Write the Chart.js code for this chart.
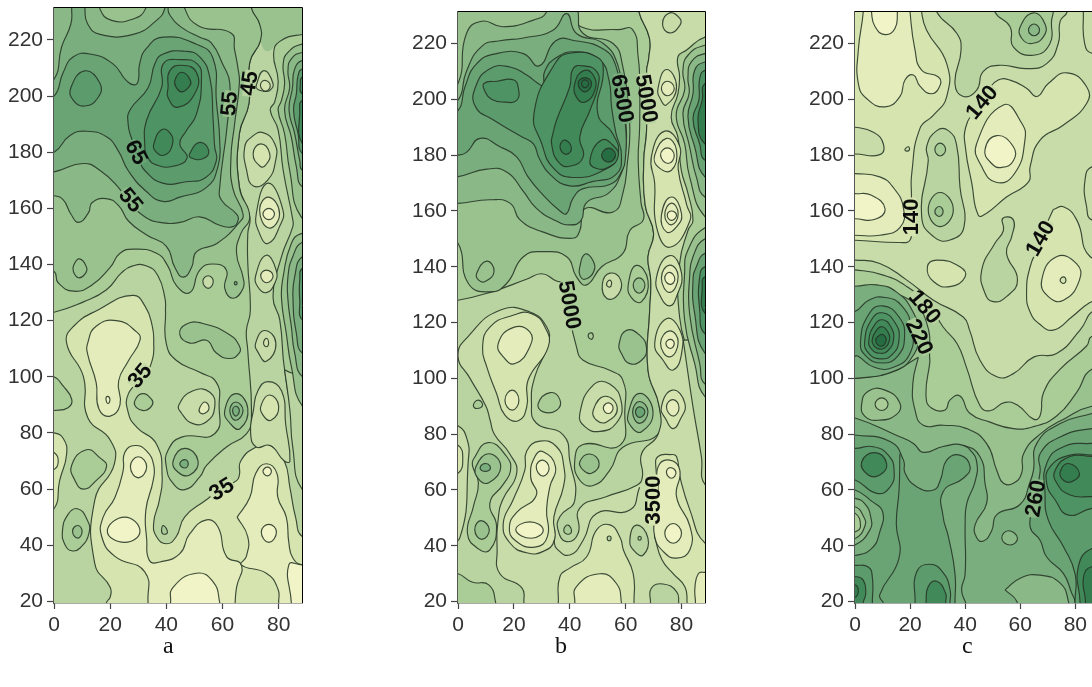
<!DOCTYPE html>
<html><head><meta charset="utf-8">
<style>
html,body{margin:0;padding:0;background:#fff;width:1092px;height:687px;overflow:hidden}
canvas{position:absolute}
.cap{position:absolute;font:24px "Liberation Serif",serif;color:#111;top:632px}
</style>
<script src="https://cdn.jsdelivr.net/npm/chart.js@4/dist/chart.umd.js"></script>
</head><body>
<canvas id="ca"></canvas><canvas id="cb"></canvas><canvas id="cc"></canvas>
<div class="cap" style="left:163px">a</div><div class="cap" style="left:555px">b</div><div class="cap" style="left:962px">c</div>
<script>
const xTicks=[0,20,40,60,80];
const yTicks=[20,40,60,80,100,120,140,160,180,200,220];
const shades=['#f1f4c6','#e3ecba','#d6e5b0','#c7dca8','#b9d4a0','#aacc97','#9ac28f','#8ab886','#7aae7e','#6aa475','#5c9b6c','#4e9363','#418959','#347d4f','#276d44'];

// contour levels of panel a: [shade band, x,y pairs, optional 0 = no outline]; null band = line only
const contoursA=[
[2,[18.7,15,18.7,19.5,20,21.5,20,25,14.5,33.5,14.5,56,21.5,69,20,77.5,12,85.5,10.5,100,4.5,112,7,118,16,124,28,129,32.5,125,35,118,35.5,112,35,106,32,100,26.5,94,26.5,87,29.5,82,36.5,76,38.5,64.5,37.5,56,35.5,48,36.5,43,40,40.5,43.5,43,46.5,50,54,56,59.5,60,65,63,66,65,66.5,70,72,75,77,75.5,82,70,84,60.5,86,50,88.5,43,95,43,95,15]],
[5,[-5,100,0,100,3,97,6.3,92,5,89,0,88,-5,88]],
[2,[-5,80,0,80,3.3,78,4.5,72.5,2,63,0,53,-5,53]],
[1,[-5,75,0,73,1.5,70,0,67,-5,67]],
[5,[6.3,68.5,11.5,74,16.5,71,18.7,68,15,63,10.5,60,7.5,63]],
[5,[3,45,5,51,8.3,53,11.6,49.5,12.5,44.5,9.3,39,6.3,38,4,40]],
[6,[6.6,45,8.4,47,10,45,8.4,42.5]],
[1,[12,112,15,118,22.3,120,29.4,116,30.6,113,26.4,105.5,23,98.5,23.5,90,20,86,16,88.5,15,98,12,108]],
[0,[19,93,19.9,92,19.3,90.5,18.5,92]],
[5,[28.8,91.5,31.5,94,34.7,92,35,90,32.4,88,29.4,89]],
[1,[33.5,15,33.5,19.5,32.3,30.5,21.7,36,17,43,17.5,50,21.7,57,24.6,66.5,25.2,73,28.8,75.5,33,73.5,35.5,68.5,35.3,63,32.7,52.5,33,42,34,34.5,37.7,34,44.8,37,48.3,44,54.3,49,58.4,46.5,61.4,36,66.7,33,65,25,64.5,19.5,64.5,15]],
[0,[41.5,15,41.5,19.5,42.4,25,50.7,30,56.6,27,59,19.5,59,15]],
[0,[19,45,25.2,50,30.6,45,25.2,41]],
[0,[27.2,68,30,71.5,33,68,30,64]],
[1,[65.2,50,69.7,57,71.8,65.5,75.6,69,79.4,65.5,79.7,57,82.7,50,83.6,41,85,35.5,88.3,33,95,33,95,15,80,15,80,19.5,79.7,24.5,75.6,30,66.7,33,68.5,36,69,43]],
[0,[84.5,15,84.5,19.5,83.6,33,88.3,33,95,33,95,15]],
[0,[73.8,44.7,76.5,47.4,79.2,44.7,76.5,41]],
[0,[74.4,66.3,76,67.8,77.4,66.3,76,64.7]],
[5,[-5,123,0,123,10.5,126.7,18.7,131,24,137,28,139.5,33,139.5,37,136,39.5,128,39.7,123.5,40,111.7,43.6,105.8,51.9,101.6,57.8,98,58.8,90.4,57.2,79.7,45.4,78.5,40.6,73.8,40,67.9,42.4,62,46.6,59.8,51.9,64.3,54.3,68.4,61.4,75,68.5,79.7,70.3,85.6,69,109.3,68.5,116.4,69.9,123.5,69,140.4,69,151,69.7,157,66,167.6,66,186.6,69.4,197.3,69.7,212,73.5,219.8,73.2,225.7,70.3,231.4,70.3,237,-5,237]],
[6,[70.3,237,70.3,231.4,73.2,225.7,73.5,219.8,76,216,80.4,219.5,88.5,222,95,222,95,237],0],
[6,[-5,137.5,0,137.5,1.5,133.5,7,130.5,13.4,132.6,20,139,23.5,144,28.2,145.5,36.5,144,40.5,139.5,43.6,132.5,48.4,130,51.9,138,56.6,140.2,61.4,138,60.8,131.5,63.7,128,67.3,131.5,67.3,135.5,65,144,66.5,151,69.7,157,66,167.6,66,186.6,69.4,197.3,69.7,212,73.5,219.8,73.2,225.7,70.3,231.4,70.3,237,-5,237]],
[7,[-5,164.5,0,164.5,3.3,163,6,158,8.7,155,12.3,158.5,13.5,162,18.5,163.5,23,161,26.5,155.5,33,150.5,40,146.5,43,139,46,135.5,49,139,50.7,144.5,58,147.5,66,155,67.3,158,63.7,167,63,178,64.3,190,66,204.5,65.5,210,64.3,216.5,63,222.5,51.5,225,46.5,231.4,46.5,237,-5,237]],
[8,[-5,173,0,173,10.4,176,16.4,173.5,22.9,167.5,27,161.7,32.3,157,37.7,155,44.8,155,51.9,157,59,154,63.7,153.5,65.6,156,65,158,59.6,163,59,167.5,61.6,189,62.6,204.5,60,211.5,56,219,51.9,221,45.4,224.5,41.2,229,40.6,231.4,40.6,237,-5,237]],
[7,[-5,206,0,206,2.7,217.5,6,225.7,6.3,231.4,6.3,237,-5,237]],
[7,[11,237,11,231.4,12,225.7,16.4,222,28.2,222,36.5,227,39.5,231.4,39.5,237]],
[6,[16.4,237,16.4,231,20.5,227,28.2,227.5,32.5,231,32.5,237]],
[9,[-5,180,0,180,5.7,186,11.6,187.5,18.7,185.5,22.9,180.5,26.4,173.5,32.9,166,38.7,162.5,44.8,164,54.3,167.5,58.4,175,59,184,57.8,198.5,56.6,213.5,50.7,218.5,38.9,221,32.9,217,30.5,211.5,30,205.5,28.8,204,25.8,205.5,21,211.5,12.8,215,6.9,214,3.3,208.5,0,200,-5,200]],
[10,[6,203,11,209,16.4,204.5,15.7,199.5,11,196.5,6.9,198.5]],
[10,[32.3,173.5,38.7,169,47,169.5,54,171,57.8,177,57.2,182,56.6,192.5,55.5,206.5,51.9,214,46.6,216,38.9,215,35.9,211.5,33.5,203,27,195,26.4,190,27.6,185,30.5,177]],
[11,[32.3,183,33,191.5,38.3,203,38.9,211.5,45,213,51,211.5,52.5,206,50.7,193.5,47,187.5,44.8,183,47.4,178,42.4,175,36.5,175.5,33.5,178]],
[12,[40.6,203,41.2,209,45.4,211,50.7,208.5,50.2,201,44,196,40.6,199.5]],
[13,[43,205.5,45.4,208.5,48.6,205.5,47.8,203,45.4,201.5,43.6,203]],
[12,[35.7,183.5,38.3,188,41.2,187,42.2,183,39.4,179,36,180.5]],
[12,[48.3,179.5,51.9,183.5,55.1,180.5,53,177.7,48.8,178]],
[6,[7,139.7,9,142,11.6,139,11,136.6,8.7,135.3,6.9,137.5]],
[3,[53,134,54.9,136,56.7,134,54.9,131.5]],
[8,[64.2,133.3,64.7,133.9,65.2,133.3,64.7,132.7]],
[6,[44.8,115,47,118.7,53,119,62.5,115,66,111,66,108.5,62.5,106.5,57.8,108.5,54.3,113,48.4,112]],
[3,[44.5,90,49.5,95,55.5,94.5,57.2,89,54.3,84,49.5,83.3,45.4,87]],
[1,[51.9,89,53.7,91,55.2,89,53.7,87,51.9,87.3]],
[6,[60.8,88,64.7,94,69,88.7,66.2,81.5,62.6,83.5]],
[7,[62.6,88,64.7,91,67.3,88,64.7,84.5]],
[8,[63.6,88,64.7,89.5,66,88,64.7,86]],
[6,[42.4,70,46.6,74.5,51.3,70,48.3,65,44.2,66]],
[8,[44.8,69,46.6,70.5,47.8,69,46.6,67.5]],
[5,[38.3,45.5,39,47,40.4,44.5,38.8,44]],
// right strip
[5,[95,222,88.5,222,80.4,219.5,78.2,215,79.8,205.5,78.6,198,77,195,79.8,188,81.6,173.6,85,156,85,153.4,81,142.8,78,128.5,80.4,120.2,82.1,102.5,85.7,84.7,88.5,80,95,80]],
[4,[82.1,102.5,84,88,85,75,88.3,60,95,60,95,95]],
[6,[95,218.6,88.5,218.6,83.3,215.6,81.6,211.5,82.1,204.4,81,198.5,79.8,195,82.1,186.6,83.9,173.6,88,157,95,157]],
[6,[95,151,88,151,84.5,147.5,81.6,135.7,81,128,82.7,115.5,84.5,103.7,88.5,89.5,95,89.5]],
[7,[95,215.6,88.5,215.6,84.5,213.3,83.3,209,83.9,203,82.1,195,84.5,185.4,86.3,174.8,88.5,167.6,95,167.6]],
[7,[95,148,88.5,148,85,142.8,83.3,135.7,83.3,127.4,84.5,117.9,85.7,108.4,88.5,100,95,100]],
[8,[95,212.7,88.5,212.7,85.7,209.7,84.9,203,83.7,194.9,85.7,186.6,87.5,177,88.5,173.6,95,173.6]],
[8,[95,142.8,88.5,142.8,85.7,135.7,85.1,127.4,86.3,115.5,88.5,108.4,95,108.4]],
[10,[95,209.7,88.5,209.7,86.9,207.3,86.3,200.8,85.3,194.9,86.9,186.6,88.5,179.5,95,179.5]],
[10,[95,138.6,88.5,138.6,87.5,134.5,87.5,127.4,88.5,120.2,95,120.2]],
[11,[95,206.8,88.5,206.8,87.7,204.4,88.5,200.8,95,200.8]],
[12,[95,198.5,88.5,198.5,87.5,194.9,88.5,183,95,183]],
// strip rings
[3,[72,203.8,74.7,209.1,78,204.4,76.8,202,74.4,201.8,72.3,202.6]],
[2,[73.5,203.8,75,205.6,77,203.8,75.3,201.8]],
[3,[67.9,181.8,70.3,185.4,74.4,187,78.6,183,78.9,177,76,170,71,168,68.5,174]],
[2,[70.9,179.5,73.6,183,76.8,179.5,75.4,175.5,73.4,175]],
[3,[72,158,76.2,169,81.5,159.5,80.3,153.5,76.2,147.5,73.2,151]],
[1,[73.2,159.5,76.5,164,80.3,158,76.5,153]],
[0,[74.4,158,76.5,160,78.5,158,76.5,156]],
[3,[71.8,136,75.6,143.3,79.1,138,78.6,133.3,75.6,130,72.6,132]],
[1,[73.6,136,75.6,138,78,136,75.8,133.5]],
[3,[71.8,112,75,116.5,79,112,75.6,105.5,72.6,108.8]],
[2,[74.6,112,75.6,113.7,76.4,112,75.6,110.7]],
[3,[72.6,95,76.2,98.3,81,95,82.5,83,84,70,82,70,77,75.5,72,75,70,80,71,88]],
[2,[73.8,90,76.8,93.5,80,89.5,77.3,84.5,74.3,86.5]]
];
const labelsA=[['45',69.4,204.6,-82,4],['55',62.3,197.3,-85,6],['65',29.4,180,62,9],['55',27.4,163,50,7],['35',30.5,100.4,-50,3],['35',59.6,60,-32,3]];

// contour levels of panel b
const contoursB=[
[5,[-5,128,0,128,12,131,24.5,135.5,30,137.5,35,135,38.5,133.5,39.5,125,42.4,111.3,44.8,106.5,54.3,102.9,59,99.3,59.7,88.6,57.9,76,44.8,76.3,41.8,70.6,43.6,63.5,48.4,61.6,54.3,67,59,75.3,71.6,80,72,90,68,103,68.6,124.4,69,135,68,143.6,70,152,67,162,66.5,178,67.5,189,67.5,210,68.3,215,68.5,222,64.8,231.3,64.8,237,-5,237]],
[5,[-5,30,0,30,5,27,11,26,13.5,19.5,13.5,15,-5,15]],
[3,[23.6,15,23.6,19.5,22.8,25,15,30,14,38.5,14.5,50.5,16,56.5,21,66,18.5,73,13,80,11.5,85,10,90,4.3,100,0,108,3.6,115,15,124.4,25.7,123.8,31.7,118.5,32.3,112.5,27.5,100.6,26.3,91,28,84,37.7,79.7,40,70.5,41.8,56.4,36.5,50.5,35.8,45.7,38.8,41.5,43,44.5,43.5,53.4,53,57.6,64,61.7,66,64.8,65.7,73,71.6,80,72,90,68,103,68.6,124.4,69,135,68,143.6,70,152,67,162,66.5,178,67.5,189,67.5,210,68.3,215,68.5,222,64.8,231.3,64.8,237,95,237,95,15]],
[6,[-5,148.4,0,148.4,3.7,134,11.4,131,17.4,134,23.4,143.6,30.5,145.4,38.9,143.6,42.4,136.4,46,133.5,51.4,140,59,144.8,61.5,153,66.3,156.8,65.5,163,64.5,178,65,190,65,207,64.5,215,62.5,225,57,225,44,226,42.5,231.3,42.5,237,-5,237]],
[7,[-5,162.7,0,162.7,11.4,164,18.6,162.8,22.2,156.8,30,152.6,41,150.2,43.6,153,45.4,160.8,55.5,159.6,59,166.3,60.7,178,61.5,187.8,61,197.4,59,211.6,55.5,220,44.8,223.6,43,231.3,43,237,-5,237]],
[6,[-5,205.7,0,205.7,3,223.5,8.5,228,16,226,27,228.4,31.7,231.3,31.7,237,-5,237]],
[8,[-5,172.3,0,172.3,10.3,175,17.4,174,23.4,167,28,161,35,156.5,40,155,44,156.5,46,163,54,166.5,58.5,173.6,59.7,179.6,60.3,188,59,200,57.3,212,52,220,42.4,223.6,38.9,230.7,34,224.8,23.4,222,15,221,8.5,219,3,210,0,199.7,-5,199.7]],
[9,[-5,180,0,180,3,181,7.9,186,15,183,21,179.4,25,172.3,30.5,165.7,36.5,160,38.8,159,41.2,164.6,44.8,168,54.3,169.5,58.5,174,60,180,60,190,58.5,200,56.5,212,52,218,42,221,35,221,29,212,23.4,216.4,13.8,216.4,6.7,212.8,2.5,204.5,0,196,-5,196]],
[10,[6.3,204.5,11.4,211,18.6,211.6,24.6,208.7,28.7,205.7,30.5,205,31,210,35.3,215,42.4,217,50.8,214,54,207,55,197,56.5,188,58.5,180,56.5,173,48,170.5,40,169,33,173,29,179,27,184,22.8,186.6,12.7,192.6,6.3,197.3]],
[11,[27.2,195,30,184,34,175.5,41,172,53,175,57.3,180.5,55.5,187.5,50,195,52,210,50,215,40,216.5,34.5,212.5]],
[12,[34,187.8,35.3,192.6,40,204.5,41.2,211,44.8,212,49.6,210,50.2,205,47.2,196,43.6,186.6,44.8,179.4,40,176,35.9,177.6,33.5,184]],
[11,[9.3,205.7,14,206.5,19.8,207,21.6,204,21,199.6,16.8,199,12,200,9.6,203]],
[13,[36.5,183,38.3,185.4,40.6,182.4,38.6,180.3]],
[12,[47.2,178,51.4,185.4,56,183,57.3,179.5,54.3,175.9,49.6,175.2]],
[14,[51.4,180,54,182.5,56.4,180,53.8,177.5]],
[13,[41.8,205.7,44.8,210.2,48.4,208.7,49,203.3,45.4,199,42.4,200.8]],
[14,[43,205.7,45.4,207.8,47.8,205.7,45.4,202.7]],
[14,[44.2,205.7,45.4,207,46.8,205.7,45.4,204.2]],
[6,[6.7,137.7,10.3,142,12.9,138.3,9.7,134.7,7.3,135.3]],
[7,[43.6,140,45.4,144.5,48.2,142.4,48.6,138.3,45.4,135.5,43.6,137]],
[3,[51.7,134,54.4,137.7,58.2,135.3,57.3,130,53.2,128.7]],
[2,[53.2,134,54.5,135.2,54.8,133.2,53.8,132.8]],
[5,[61,134,63.9,140.5,68,135,65.7,127.5,62,129]],
[6,[62.7,133.5,64.8,136,66.9,133.5,64.8,130.5]],
[2,[8.8,111.2,11.4,118.4,19.7,122.6,26.3,123.2,31.1,118.4,32.3,111.3,25.1,99.4,24.6,89.8,21.6,84.8,16.8,86.8,13.8,94.6,10.3,104.1]],
[1,[14.4,112.5,19.7,118.2,25.7,116.7,25.7,111.3,20.4,105.3,16.2,107.7]],
[1,[16.8,92.2,19.4,95.8,21.8,92.2,19.4,88.6]],
[5,[5.5,90.4,7.3,92.2,8.8,90.4,6.7,89.2]],
[5,[28.7,91,33,94.9,36.5,92.3,35.3,88.6,30.5,88]],
[3,[43.6,87.4,48.4,97.6,54.3,98,58.5,91.2,56.7,84,50.8,81,45.4,82.7]],
[2,[48.4,88.6,52.6,93.6,57,89.3,53.2,84.4,49.6,85]],
[0,[52,89.4,53.8,91.2,55.5,89.4,53.8,87.4]],
[6,[60.9,87.4,65,94.6,69.8,88,65.7,80.9,62,82.7]],
[7,[62.5,88,65,91.7,68,88,65,83.9]],
[9,[63.5,88,65,89.8,66.9,88,65,86]],
[6,[57.7,112.5,60.3,117.2,65,115.5,67.5,110.7,65.7,106.5,61.5,105.3,58.5,108.9]],
[5,[46.6,115.5,47.8,116.3,48.4,114.9,47.6,114]],
[6,[43.6,70.1,47.2,72.9,50.5,69.6,47.8,66,44.8,67.1]],
[5,[5.5,71,10.8,77,17.4,72,18.8,67,16.2,62,11.4,55.2,13.8,47,11.4,38.5,7.3,38.9,3.4,44.3,5.5,54,7.3,62.6,5.2,68.6]],
[6,[6.4,68.3,11,73,15.3,68.3,11,62.6,7.3,64]],
[8,[8.1,68.5,9.7,69.5,11.4,68.7,11,67,8.5,67]],
[6,[6,45.7,8.2,49,11.2,45.7,8.5,42.3]],
[3,[-5,83,0,83,3.3,78,3.7,70.7,0.7,43,-5,43]],
[2,[-5,76,0,76,1.7,71.3,0,66,-5,66]],
[2,[35.9,15,35.9,19.5,36.5,29,40,32,46,36,49.6,45.7,54.4,47.5,58,43,59.2,38.5,62.7,30,63,19.5,63,15]],
[1,[41.8,15,41.8,19.5,42.4,25.4,50.8,30,56.7,26.5,58.5,19.5,58.5,15]],
[4,[53.4,42.7,54.1,43.5,54.8,42.7,54.1,41.8]],
[2,[16.2,48,19.7,56.4,23.9,67,24.6,74,29.3,77.5,35.3,75.5,37.9,68.3,37.7,61,34.3,50.3,34.5,42,30.5,38,24.6,37.5,18.6,41]],
[1,[26,64.7,27.5,71.9,30.5,73.7,34.9,68.3,32.9,61.2,31.7,53,32,43.3,27.5,39.5,20.4,42,18.4,46.8,21,52,28,58]],
[0,[28,68.3,30.3,70.7,32.6,67.7,30.3,65]],
[0,[20.7,45.7,25.7,48.6,30.5,45.7,26.3,42.7]],
[5,[37.9,46,39.4,47.4,40.6,45,38.9,44.2]],
[null,[65,61,61.5,52.8,49.6,51.6,44.8,42,40,36.7,35.3,39,34.3,42]],
[2,[70.4,43,73,35,77,30,81.2,25.3,82,19.5,82,15,95,15,95,41,88.4,41,83,52.8,79.4,64.8,78.2,72,76,72.7,71.6,72,70.8,68.3,72,58,70.4,50]],
[1,[71.6,68.3,75.8,70.7,79.4,67,78.2,57.6,83,47,83,38.6,78.2,35.6,73.4,38,70.4,43.3,70.4,50.4,71.6,59.6]],
[0,[74.6,66.3,76,68,78,66.3,76.4,64.2]],
[0,[74,44.5,77,48,80,44.5,77,40.9]],
[4,[68.9,15,68.9,19.5,69.2,24.8,73.4,26.3,78.2,23.6,79,19.5,79,15]],
[1,[95,30.5,88.4,30.5,86,30,84.8,25,85,19.5,85,15,95,15]],
[4,[61.5,42,63.9,47.4,68,42.7,66.3,36.7,63.3,37.9]],
[5,[64.4,42.7,65,43.4,65.6,42.7,65,42]],
// right strip
[5,[95,222.3,88.4,222.3,81.7,217.6,78.7,215.2,79.3,208,78.7,202,76.3,193.7,78.7,186.5,79.9,174.6,82.3,166.3,84.1,156.7,82.3,153,79.3,141,79.3,122,82.9,106.6,85.3,93.5,88.4,86.3,95,86.3]],
[4,[80.6,113.7,84.1,89.8,87.1,72,88.4,62,95,62,95,113]],
[6,[95,219.4,88.4,219.4,82.3,215.8,80.5,210.4,81.1,203.3,78.1,194.3,81.1,184.2,82.9,172.2,88.4,158,95,158]],
[6,[95,154,88.4,154,82.3,146,81.1,137.6,81.1,120.9,84.7,105.4,88.4,93.5,95,93.5]],
[7,[95,216.4,88.4,216.4,83.5,213.4,82.3,208,82.7,202,80.5,194.9,82.9,183,85.3,172.2,88.4,165,95,165]],
[7,[95,150,88.4,150,84.1,143.6,82.9,136.4,82.9,123,86.5,105.4,88.4,98,95,98]],
[9,[95,213.4,88.4,213.4,84.7,210.4,84.1,202,82.3,193.7,84.7,183,88.4,172.2,95,172.2]],
[9,[95,144.8,88.4,144.8,85.3,140,84.1,135.2,84.7,123.3,88.4,109,95,109]],
[11,[95,210.4,88.4,210.4,86.5,207.4,86.2,199.7,84.1,193.1,86.5,184,88.4,178.2,95,178.2]],
[11,[95,140,88.4,140,86.5,136.4,86.5,124.5,88.4,116,95,116]],
[13,[95,205.6,88.4,205.6,87.4,199.7,85.9,192.5,88.4,184,95,184]],
[13,[95,136.4,88.4,136.4,87.4,132.8,88.4,123.3,95,123.3]],
// strip rings
[3,[73.2,227,75.8,231,79.4,229,79.4,226.5,75.8,223.8]],
[2,[71.6,204,74.6,210.7,78.2,204.5,74.6,198,72.5,200]],
[1,[72.8,204,74.9,206.5,77.4,204,74.9,201.3]],
[2,[69.2,179.4,74,188.6,79.4,183,78.8,175,81.8,162.4,83,156.5,75.8,147,71,154.5,70.4,170]],
[1,[70.4,180,74.6,186,78.2,181.8,76.4,174.6,71.6,175.8]],
[0,[72.5,180,74.9,182.6,77.4,180,75.2,177]],
[1,[72.8,158.5,76.4,165,80,159,78.2,154.3,74.6,152.5]],
[1,[74,158.5,76.4,162.8,78.8,159,76.4,155]],
[0,[74.9,158.5,76.4,160,78.2,158.5,76.4,156.6]],
[2,[71,136,75.8,144,80,137.7,78.2,129.3,75.8,126,72.8,128.7]],
[1,[72.8,136,75.8,140.6,78.8,136.5,75.8,130.8]],
[0,[74,136,75.8,138,77.6,135.5,75.8,133.7]],
[2,[70.4,112.5,74.6,121.4,79.4,117.3,80,108.9,77,103,73.4,106.5]],
[1,[72.5,112.5,75.8,117,78.8,113,75.8,107.7]],
[0,[74.4,112.5,76,114,77.4,112.5,76,110.7]],
[2,[72.8,89.8,76.8,95.8,81.2,91,79.4,85,77,82,74.6,85]],
[1,[74.6,89.8,77,92.4,79.1,89.5,77,86.5]]
];
const labelsB=[['6500',58.9,200.3,80,8],['5000',67.5,200.3,80,4],['5000',40,126.3,80,5],['3500',69.8,56.4,-90,2]];

// contour levels of panel c
const contoursC=[
[4,[29.7,237,29.7,231.3,37,223.6,38.5,217.6,36.3,205.7,39.3,201,44.2,203.3,46.6,210,52.7,212.2,62.4,211,69.6,212.8,73.8,220,74.5,228,77,231.3,77,237]],
[5,[50.8,237,50.8,231.3,56.3,226,57.5,218.8,64.8,215.8,70.8,220,71.4,228.4,72,231.3,72,237]],
[6,[60,226,64.8,231,69,227,68.4,222.4,64.2,220,60.6,221.8]],
[7,[63,224.8,65,227,67,224.8,65,222.8]],
[2,[-5,237,24.2,237,24.2,231.3,26,224.8,33.3,212.8,33.3,201,28.5,194.3,23.6,189.6,20.6,173.4,20.5,165,20.3,155,20,149.6,16.3,148.7,0,149.5,-5,149.5]],
[1,[20,237,20,231.3,21.8,217.6,24.2,210.5,30.3,208,30.9,205,27.8,202,23.6,204.7,21.2,208.7,18.2,207,16.3,201,10.9,197.3,4.2,200.3,1.2,205.7,1.2,217.6,3,231.3,3,237]],
[0,[6,237,6,231.3,7.3,226,10.9,223.2,14.5,225.4,15.4,231.3,15.4,237]],
[3,[-5,190,0,190,6.7,188.2,10.3,184,9,180.2,0,180.4,-5,180.4]],
[1,[-5,173.4,0,173.4,9,172.2,13.9,168.4,17.6,161,16.3,154,9,151.3,0,151.3,-5,151.3]],
[0,[-5,166.2,0,166.2,6,165.6,10.9,160.8,7.3,157,0,157.2,-5,157.2]],
[3,[18.2,182.2,19.4,183,19.7,181.8,18.5,181.5]],
[4,[26,183,29.7,188.8,33.9,188.8,36.9,183.6,38.1,168.7,39.6,154.4,34.5,149.6,28.5,150.8,24.2,158,26.6,178]],
[5,[29,182,30.9,184.3,32.9,182,30.9,179.7]],
[5,[26.6,160.4,30.9,166.6,35.7,160.4,30.9,154.4]],
[6,[29,159.8,30.6,161.6,32,159.8,30.6,158]],
[2,[52,206.9,56.3,206.9,62.4,203.9,66,201,70.2,205.7,77,209.5,84.1,204.5,84.1,198.5,75.7,190.8,67.2,185.4,63.6,176,63,170.4,55,165,47.8,159.2,44.8,158.5,42.4,170,40.2,182,40.2,190,44,197,48,203]],
[1,[44.2,184.2,53.9,198,60.5,191.5,61.7,185.4,58,173.5,51.5,170.2,46,175.9]],
[0,[47.2,182,51.5,187,57.5,183,57.5,178,53.3,175.6,49.6,177]],
[3,[82.9,237,82.9,231.3,83.4,220,86,216.5,95,216.5,95,237]],
[3,[95,175.8,86,175.8,83.5,170.9,84.1,161.5,86,156.8,95,156.8]],
[4,[46,138.8,50.8,148.4,53.9,153,53.6,157.3,57.5,156.8,56.9,150.8,55,145,59,135.3,55,129.3,50.2,127.5,47.2,130.5]],
[2,[26.3,140,29.7,142.4,38.1,140,40,136.4,34.5,132.9,28.5,134.7]],
[4,[-5,142.4,0,142.4,9,141.2,18.7,135.3,28.5,128,39.3,122,41.6,117.3,45.4,106.5,51.5,100.6,57.5,101.7,65,107.7,73.2,108.9,81.7,117.3,87,124.4,95,124.4,95,15,-5,15]],
[2,[72,160.5,69.5,155,67,148,63.6,140,62.3,130.5,63.5,124,67,119.5,72,117.3,78.7,122,85,127,95,132,95,143,85.4,143.6,80.5,156.8,75.7,161.5]],
[1,[67.8,135.2,73.2,143.6,80.5,141,81.5,135.2,75.7,128,70.2,129.3]],
[2,[74.5,135.2,75.7,136.4,76.6,135.2,75.7,134]],
[5,[-5,138.9,0,138.9,10.3,137,18.8,132.9,27,126,32,118.4,37.1,112.4,40.6,103.6,45.4,90.2,49,88.4,54.5,91.4,59.3,90.2,64.8,85.4,67.2,86.6,68.5,95,74.5,103.3,84.1,111.6,86,115,95,115,95,15,-5,15]],
[6,[27.2,106,25.8,93.4,27.9,89.3,32.7,88.7,34.5,92.3,38.1,93.7,41.7,87.5,48.8,84.4,57.5,82,64.8,82.7,73.2,86.5,80.5,95,86,103.3,95,103.3,95,15,-5,15,-5,125,10,130,20,128,26,120]],
[7,[23,107.6,21,98.2,21.8,88.6,24.8,83.2,32,83.2,40.6,82,47.8,76.6,51.5,67,53.9,62.4,57.5,62.4,60.5,66,61.2,73,67.2,80,76.9,86,86,90,95,90,95,15,-5,15,-5,100,0,100,12.7,102]],
[8,[-5,85.8,0,85.8,15,79.6,21.2,76.7,24.8,73.5,32,75.6,39.3,76,45.4,71.9,47.2,62.4,47.8,55.2,43.6,47.5,44.2,42.9,46.6,41.7,49.6,45.3,51.5,51.2,59.9,54.8,63.6,63,64.8,67,66,76.7,74.5,83.8,86,87.4,95,90,95,15,-5,15]],
[8,[-5,133,0,133,8,133.5,15,131,21,124,23,116,21,108,14,102.5,0,100,-5,100]],
[9,[-5,124,0,124,5,128,11,129,17,126,20.5,118,20,109,14,104,7,104,1,108,0,108,-5,108]],
[10,[2,113,5,123,10,126,16,122,18,115,15.5,108,10,105.5,4,108]],
[11,[3.5,113,6,121,10,123.5,14.5,120,16,114,13.5,108.5,9,107,5,109]],
[12,[5,113.5,7,119,10,121,13,118.5,14,114,12,110,9,109,6,110.5]],
[13,[6.2,113.5,8,117.5,10,118.5,12,116.5,12.5,113.5,11,111,9,110.5,7,111.5]],
[14,[7.5,113.5,9,115.5,10.5,115.5,11.3,113.5,9.5,111.5]],
[6,[2.4,90.7,4.8,95.4,10.9,95.8,16.3,91.2,15,87,8.5,85,3.6,86.4]],
[5,[7.3,90.7,9.7,93,12,90.7,9.7,88.5]],
[9,[-5,79.7,0,79.7,12.9,77.3,17.6,70.7,18.2,66,22.4,61.2,28.5,60,31,63.6,33.3,70.7,38.1,72.5,41.8,68.3,39.3,64.2,32,59.4,32,50.4,33.9,43.3,36.3,30.1,36.3,19.5,36.3,15,-5,15]],
[null,[40.2,19.5,38.7,24.2,40,30,40,48,40.6,55.2,43.6,63,44.2,70,41.7,74.5,39.3,76]],
[null,[16.3,73,16,60,15,48,16,35.7,9,22.5,10.3,19.5]],
[10,[-5,74.9,0,74.9,6.7,75.5,12.1,72.5,14.2,67,12.7,61,7.9,58.8,0,63.6,-5,63.6]],
[12,[2.4,70,7.3,73.4,11.5,69.4,9,65.4,4.8,65.4]],
[8,[-5,60,0,60,6,56,10,52.3,9,45,6,39,0,36.5,-5,36.5]],
[7,[-5,57,0,57,3.6,55,5.7,50.4,5.4,45.7,0,40.3,-5,40.3]],
[6,[-5,54,0,54,3,50.7,3.6,47.1,0,42.6,-5,42.6]],
[5,[-5,51.7,0,51.7,2,47,0,45,-5,45]],
[10,[-5,33,0,33,4.8,32.4,6.3,28.7,6.3,19.5,6.3,15,-5,15]],
[12,[-5,29,0,29,3,27.7,3.9,23,3,19.5,3,15,-5,15]],
[13,[-5,26,0,26,1.2,24,0,21.5,-5,21.5]],
[10,[21.8,15,21.8,19.5,22.4,30.7,27.2,33.4,32,30.4,34.5,24.3,34.5,19.5,34.5,15]],
[12,[25.8,15,25.8,19.5,26.6,25.4,29.7,27.3,32.9,23,32.9,19.5,32.9,15]],
[9,[95,82,86,82,74.5,79,67.2,73,67.2,66.5,65,55,63.6,46.8,67.2,42,69.6,36,75.7,30,78.7,23,79.9,20,79.9,15,95,15]],
[10,[95,76.7,86,76.7,75.7,75.5,69.6,69.5,69,58.8,70.2,49.2,75.7,39.7,79.9,30,79.9,20,79.9,15,95,15]],
[11,[95,72.5,86,72.5,78.1,72.5,70.8,68.3,69.6,62.4,72.7,56.4,77.5,51,86,53.4,95,53.4]],
[12,[95,72,86,72,78.1,72,72.7,67.1,73.3,62.4,78.1,58.2,86,57.6,95,57.6]],
[13,[74.5,66.5,77.5,69.5,81.5,66,78.7,63,75.7,63.5]],
[12,[81.7,15,81.7,20,81.1,32.5,86,39,95,39,95,15]],
[13,[83.7,15,83.7,20,83,29,86,32.5,95,32.5,95,15]],
[7,[53.3,42.7,55.7,45.4,59,42.7,56.3,40.3]],
[7,[54.5,24.2,60,28.4,67.2,29.5,74.5,26.6,77.5,20,77.5,15,58.8,15,58.8,20]]
];
const labelsC=[['140',46,199,-50,3],['140',20.3,157.9,-90,2],['140',67.2,150.2,-60,3],['180',25.4,125.7,50,4],['220',23.4,114.9,65,5],['260',65.4,57,-80,7]];

const baseBand={a:4,b:4,c:3};
const FAMILY='"Liberation Sans",Arial,sans-serif';
Chart.defaults.font.family=FAMILY;
Chart.defaults.font.size=21;

const labelPlugin={id:'labels',afterDatasetsDraw(c,_,o){
  const x=c.scales.x,y=c.scales.y,g=c.ctx,A=c.chartArea;
  g.save();g.beginPath();g.rect(A.left,A.top,A.width,A.height);g.clip();
  g.font='bold 22px '+FAMILY;g.textAlign='center';g.textBaseline='middle';
  for(const [t,vx,vy,a,b] of o.items){
    g.save();g.translate(x.getPixelForValue(vx),y.getPixelForValue(vy));g.rotate(a*Math.PI/180);
    const w=g.measureText(t).width;g.fillStyle=shades[b];g.fillRect(-w/2-1,-5,w+2,10);
    g.fillStyle='#0c0c0c';g.fillText(t,0,1);g.restore();
  }
  g.restore();
  g.strokeStyle='#000';g.lineWidth=1;g.beginPath();
  g.moveTo(A.left,A.top-.5);g.lineTo(A.right+.5,A.top-.5);g.lineTo(A.right+.5,A.bottom);g.stroke();
}};

// closed rings get one extra point each side so the spline has no seam; those two
// helper segments are not stroked, so the outline is not drawn twice
function toPts(f,open){
  const p=[];for(let i=0;i<f.length;i+=2)p.push({x:f[i],y:f[i+1]});
  if(open)return {pts:p,ring:false};
  const inside=p.every(q=>q.x>=0&&q.x<=88.5&&q.y>=19&&q.y<=232);
  if(inside)return {pts:[p[p.length-1],...p,p[0],p[1]],ring:true};
  p.push(p[0]);return {pts:p,ring:false};
}

function panel(id,plot,layers,labels,base,xr,yr){
  const L=50,T=6,R=6,B=48;
  const cv=document.getElementById(id);
  cv.style.left=(plot.l-L)+'px';cv.style.top=(plot.t-T)+'px';
  const W=L+plot.w+R,H=T+plot.h+B;cv.width=W;cv.height=H;
  const back={data:toPts([-5,237,95,237,95,15,-5,15]).pts,fill:'shape',backgroundColor:shades[base],borderWidth:0,showLine:true,pointRadius:0,tension:0};
  const ds=layers.map(([b,f,outline])=>{
    const open=b===null;
    const {pts,ring}=toPts(f,open);
    const n=pts.length;
    const d={data:pts,showLine:true,pointRadius:0,tension:.5,capBezierPoints:false,
      fill:open?false:'shape',backgroundColor:open?'transparent':shades[b],borderColor:'rgba(38,52,38,.88)',borderWidth:outline===0?0:1.15};
    if(ring)d.segment={borderColor:c=>(c.p0DataIndex===0||c.p1DataIndex===n-1)?'rgba(0,0,0,0)':undefined};
    return d;
  });
  const tick={color:'#333',font:{family:FAMILY,size:21},padding:4,autoSkip:false,maxRotation:0};
  new Chart(cv,{type:'scatter',data:{datasets:[back,...ds].reverse()},plugins:[labelPlugin],options:{
    responsive:false,animation:false,events:[],layout:{padding:{left:0,top:T,right:R,bottom:0}},
    plugins:{legend:{display:false},tooltip:{enabled:false},labels:{items:labels}},
    scales:{
      x:{type:'linear',min:xr[0],max:xr[1],afterBuildTicks:a=>{a.ticks=xTicks.map(v=>({value:v}))},afterFit:a=>{a.height=B;a.paddingLeft=0;a.paddingRight=0},
        grid:{drawOnChartArea:false,tickLength:6,tickColor:'#444',tickWidth:1.2},border:{color:'#555',width:1.5},ticks:tick},
      y:{type:'linear',min:yr[0],max:yr[1],afterBuildTicks:a=>{a.ticks=yTicks.map(v=>({value:v}))},afterFit:a=>{a.width=L;a.paddingTop=0;a.paddingBottom=0},
        grid:{drawOnChartArea:false,tickLength:7,tickColor:'#444',tickWidth:1.2},border:{color:'#555',width:1.5},ticks:tick}
    }}});
}
panel('ca',{l:54,t:7.5,w:248.3,h:595.5},contoursA,labelsA,baseBand.a,[0,88.3],[19.4,231.4]);
panel('cb',{l:458,t:11.7,w:247.3,h:591.6},contoursB,labelsB,baseBand.b,[0,88.4],[19.5,231.3]);
panel('cc',{l:855,t:11.7,w:244,h:591.6},contoursC,labelsC,baseBand.c,[0,88.6],[19.5,231.3]);
</script>
</body></html>
